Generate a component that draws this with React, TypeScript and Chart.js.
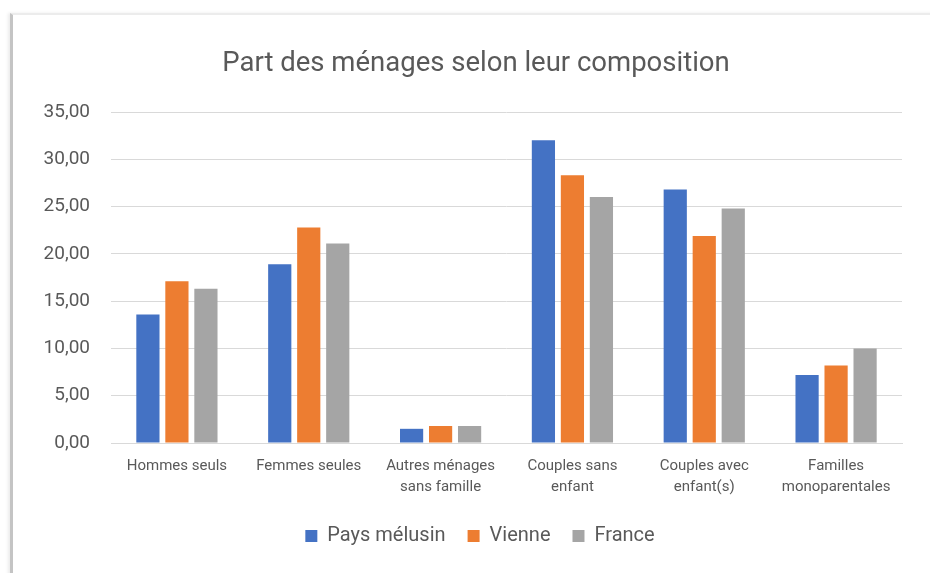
import React, { useEffect, useRef } from "react";
import { Chart, registerables } from "chart.js";

Chart.register(...registerables);

const categories: (string | string[])[] = [
  "Hommes seuls",
  "Femmes seules",
  ["Autres ménages", "sans famille"],
  ["Couples sans", "enfant"],
  ["Couples avec", "enfant(s)"],
  ["Familles", "monoparentales"],
];

const paysMelusin = [13.6, 18.9, 1.5, 32.0, 26.8, 7.2];
const vienne = [17.1, 22.8, 1.8, 28.3, 21.9, 8.2];
const france = [16.3, 21.1, 1.8, 26.0, 24.8, 10.0];

const seriesNames = ["Pays mélusin", "Vienne", "France"];
const seriesColors = ["#4472C4", "#ED7D31", "#A5A5A5"];

const titleText = "Part des ménages selon leur composition";
const yMax = 35;
const yStep = 5;

const mainFont = "Roboto, 'Noto Sans', sans-serif";

// shifts title and legend so they are centred over the whole framed chart
const centreShift = {
  id: "centreShift",
  afterLayout(chart: any) {
    if (chart.titleBlock) {
      chart.titleBlock.left += 15;
      chart.titleBlock.right += 15;
    }
    if (chart.legend) {
      chart.legend.left += 19;
      chart.legend.right += 19;
    }
  },
};

export default function App() {
  const ref = useRef<HTMLCanvasElement | null>(null);

  useEffect(() => {
    if (!ref.current) return;
    const values = [paysMelusin, vienne, france];
    const chart = new Chart(ref.current, {
      type: "bar",
      data: {
        labels: categories,
        datasets: seriesNames.map((name, i) => ({
          label: name,
          data: values[i],
          backgroundColor: seriesColors[i],
          borderWidth: 0,
          categoryPercentage: 0.66,
          barPercentage: 0.8,
        })),
      },
      plugins: [centreShift],
      options: {
        animation: false,
        responsive: false,
        maintainAspectRatio: false,
        layout: { padding: { left: 20, right: 28, top: 0, bottom: 17 } },
        plugins: {
          title: {
            display: true,
            text: titleText,
            color: "#595959",
            font: { family: mainFont, size: 27.5, weight: "normal" },
            padding: { top: 48, bottom: 31 },
          },
          legend: {
            position: "bottom",
            labels: {
              color: "#595959",
              font: { family: mainFont, size: 20 },
              boxWidth: 12,
              boxHeight: 12,
              padding: 22,
            },
          },
          tooltip: { enabled: false },
        },
        scales: {
          x: {
            afterFit: (scale: any) => {
              scale.height = 61;
            },
            grid: { display: false, drawTicks: false },
            border: { display: true, color: "#D9D9D9", width: 1 },
            ticks: {
              color: "#595959",
              font: { family: mainFont, size: 15, lineHeight: 1.45 },
              maxRotation: 0,
              autoSkip: false,
              padding: 12,
            },
          },
          y: {
            min: 0,
            max: yMax,
            afterFit: (scale: any) => {
              scale.width = 91;
            },
            grid: { color: "#D9D9D9", lineWidth: 1, drawTicks: false },
            border: { display: false },
            ticks: {
              stepSize: yStep,
              color: "#595959",
              font: { family: mainFont, size: 19 },
              padding: 21,
              callback: (v: any) => Number(v).toFixed(2).replace(".", ","),
            },
          },
        },
      },
    });
    return () => chart.destroy();
  }, []);

  return (
    <div style={{ position: "fixed", left: 0, top: 0, width: 930, height: 573, background: "#fff", overflow: "hidden" }}>
      <canvas ref={ref} width={930} height={573} style={{ position: "absolute", left: 0, top: 0 }} />
      <div
        style={{
          position: "absolute",
          left: 10,
          top: 13,
          width: 930,
          height: 580,
          borderLeft: "3px solid #c4c4c4",
          borderTop: "2px solid #ececec",
          boxShadow: "-2px 0 3px rgba(0,0,0,0.08)",
          pointerEvents: "none",
        }}
      />
    </div>
  );
}
